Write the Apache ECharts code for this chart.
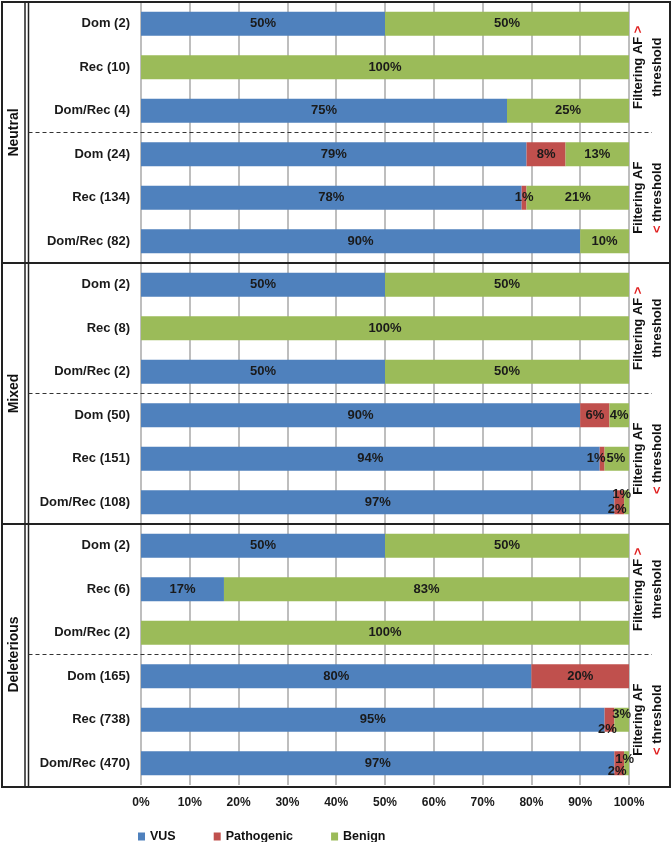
<!DOCTYPE html>
<html>
<head>
<meta charset="utf-8">
<script src="https://cdn.jsdelivr.net/npm/echarts@6/dist/echarts.min.js"></script>
<style>html,body{margin:0;padding:0;background:#fff;}#c{width:672px;height:842px;}</style>
</head>
<body>
<div id="c"></div>
<script>
// ---- data ----
const rowLabels = [
  'Dom (2)','Rec (10)','Dom/Rec (4)','Dom (24)','Rec (134)','Dom/Rec (82)',
  'Dom (2)','Rec (8)','Dom/Rec (2)','Dom (50)','Rec (151)','Dom/Rec (108)',
  'Dom (2)','Rec (6)','Dom/Rec (2)','Dom (165)','Rec (738)','Dom/Rec (470)'
];
const groups = ['Neutral','Mixed','Deleterious'];
const seriesNames = ['VUS','Pathogenic','Benign'];
const vus        = [50, 0, 75, 79, 78, 90,  50, 0, 50, 90, 94, 97,  50, 17, 0, 80, 95, 97];
const pathogenic = [ 0, 0,  0,  8,  1,  0,   0, 0,  0,  6,  1,  2,   0,  0, 0, 20,  2,  2];
const benign     = [50,100,25, 13, 21, 10,  50,100,50,  4,  5,  1,  50, 83,100, 0,  3,  1];
const xTicks = [0,10,20,30,40,50,60,70,80,90,100];

// label position tweaks for tiny segments (index -> offset)
const pathOffsets = {10:[-6,0], 11:[-2,7], 16:[-2,10], 17:[-2,8]};
const benOffsets  = {10:[-1,0], 11:[-5,-8], 16:[0,-5], 17:[-2,-4]};

const colors = ['#4F81BD','#C0504D','#9BBB59'];
const FONT = '"Liberation Sans", Arial, sans-serif';

function mk(values, offsets){
  return values.map((v,i)=> offsets && offsets[i] ? {value:v, label:{offset:offsets[i]}} : v);
}
const labelCfg = {
  show:true, position:'inside', color:'#1a1a1a', fontWeight:'bold', fontSize:13, fontFamily:FONT,
  formatter: p => (p.value ? p.value + '%' : '')
};

const chart = echarts.init(document.getElementById('c'), null, {renderer:'canvas'});
chart.setOption({
  animation:false,
  backgroundColor:'#fff',
  color:colors,
  grid:{left:141, right:43, top:2, bottom:57, containLabel:false},
  legend:{
    data:seriesNames, left:133, top:825, itemWidth:7, itemHeight:8, itemGap:38, icon:'rect',
    textStyle:{fontWeight:'bold', fontSize:12.5, color:'#111', fontFamily:FONT}
  },
  xAxis:{
    type:'value', min:0, max:100, interval:10,
    axisLine:{show:false}, axisTick:{show:false},
    splitLine:{show:true, lineStyle:{color:'#A8A8A8', width:1.5}},
    axisLabel:{formatter:'{value}%', fontWeight:'bold', fontSize:12, color:'#1a1a1a', margin:12, fontFamily:FONT,
      customValues: xTicks}
  },
  yAxis:{
    type:'category', inverse:true,
    data: rowLabels.map((_,i)=>String(i)),
    axisLine:{show:false}, axisTick:{show:false},
    axisLabel:{formatter: v => rowLabels[+v], fontWeight:'bold', fontSize:13, color:'#1a1a1a', margin:11, fontFamily:FONT}
  },
  series:[
    {name:'VUS', type:'bar', stack:'t', barWidth:24, data:mk(vus), label:labelCfg, itemStyle:{color:colors[0]}},
    {name:'Pathogenic', type:'bar', stack:'t', barWidth:24, data:mk(pathogenic, pathOffsets), label:labelCfg, itemStyle:{color:colors[1]}},
    {name:'Benign', type:'bar', stack:'t', barWidth:24, data:mk(benign, benOffsets), label:labelCfg, itemStyle:{color:colors[2]}}
  ]
});

// ---- frame, separators and side labels ----
const yc = i => chart.convertToPixel({yAxisIndex:0}, String(i));
const band = yc(1) - yc(0);
const yTop = yc(0) - band/2;
const yBound = k => yTop + k*band;
const yBottom = yBound(rowLabels.length) + 2;
const L = 2, R = 670;
const lineStyle = {stroke:'#222', lineWidth:2};
const els = [];
// outer frame
els.push({type:'rect', shape:{x:L, y:yTop, width:R-L, height:yBottom-yTop}, style:{fill:'none', stroke:'#222', lineWidth:2}, z:100});
// double vertical line
els.push({type:'line', shape:{x1:25, y1:yTop, x2:25, y2:yBottom}, style:{stroke:'#222', lineWidth:1.5}, z:100});
els.push({type:'line', shape:{x1:28.5, y1:yTop, x2:28.5, y2:yBottom}, style:{stroke:'#222', lineWidth:1.5}, z:100});
const gSize = 6;
groups.forEach((g, gi) => {
  const y0 = yBound(gi*gSize), y1 = yBound((gi+1)*gSize), ym = yBound(gi*gSize + 3);
  if (gi > 0) els.push({type:'line', shape:{x1:L, y1:y0, x2:R, y2:y0}, style:lineStyle, z:100});
  els.push({type:'line', shape:{x1:28.5, y1:ym, x2:652, y2:ym}, style:{stroke:'#333', lineWidth:1, lineDash:[4,3]}, z:100});
  els.push({type:'text', x:14, y:(y0+y1)/2, rotation:Math.PI/2, z:100,
    style:{text:g, font:'bold 14px '+FONT, fill:'#111', align:'center', verticalAlign:'middle'}});
  els.push({type:'text', x:648, y:(y0+ym)/2, rotation:Math.PI/2, z:100,
    style:{text:'Filtering AF {r|>}\nthreshold', font:'bold 13px '+FONT, fill:'#111', align:'center', verticalAlign:'middle', lineHeight:19,
      rich:{r:{fill:'#E02020', font:'bold 13px '+FONT}}}});
  els.push({type:'text', x:648, y:(ym+y1)/2, rotation:Math.PI/2, z:100,
    style:{text:'Filtering AF\n{r|<} threshold', font:'bold 13px '+FONT, fill:'#111', align:'center', verticalAlign:'middle', lineHeight:19,
      rich:{r:{fill:'#E02020', font:'bold 13px '+FONT}}}});
});
chart.setOption({graphic:{elements:els}});
</script>
</body>
</html>
